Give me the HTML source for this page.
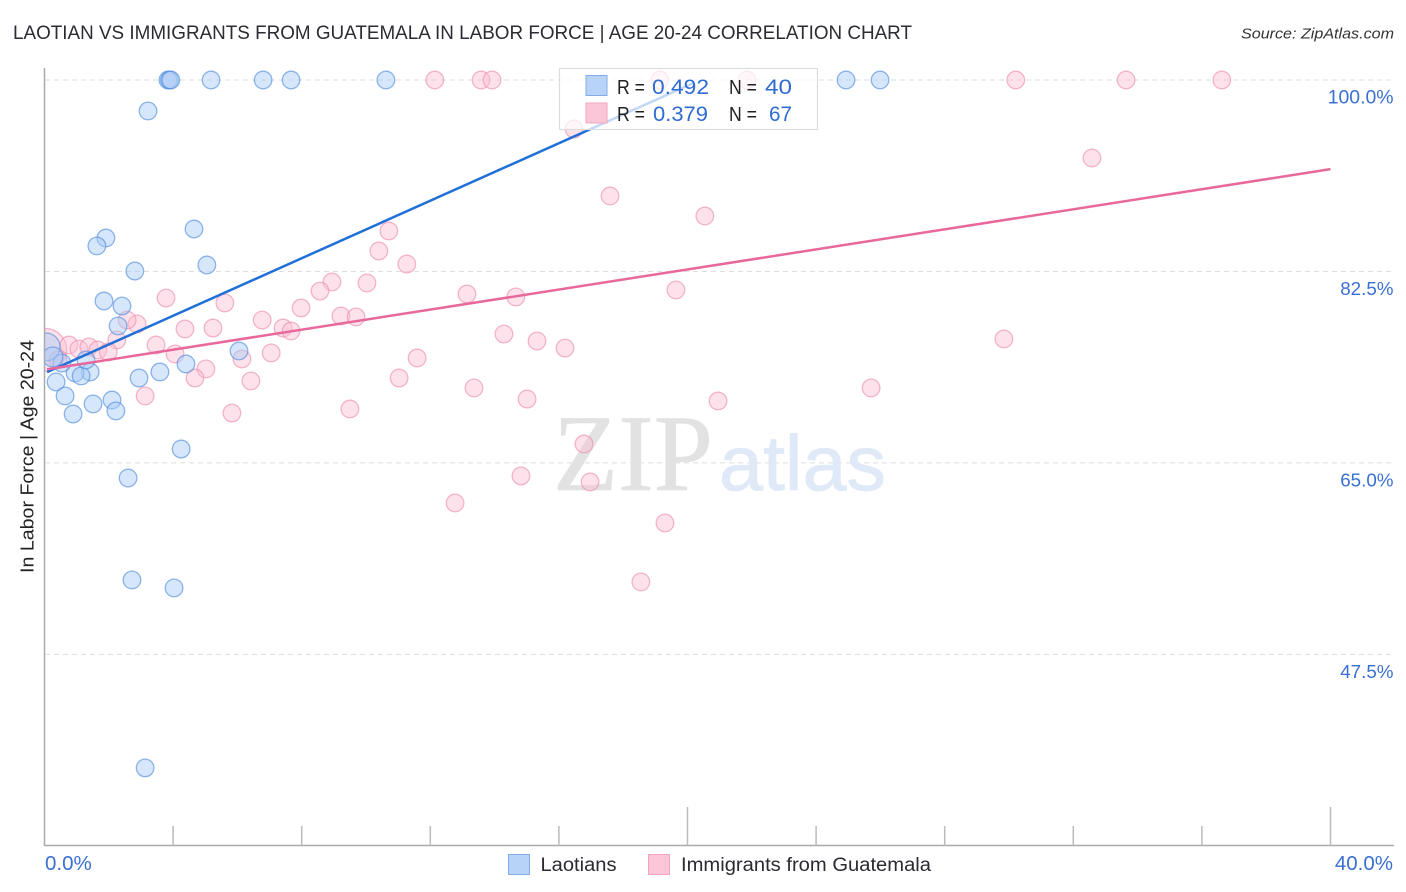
<!DOCTYPE html>
<html lang="en">
<head>
<meta charset="utf-8">
<title>Laotian vs Immigrants from Guatemala in Labor Force | Age 20-24 Correlation Chart</title>
<style>
html,body{margin:0;padding:0;background:#fff;width:1406px;height:892px;overflow:hidden}
svg{display:block}
text{font-family:"Liberation Sans",sans-serif}
</style>
</head>
<body>
<svg id="chart" xmlns="http://www.w3.org/2000/svg" width="1406" height="892" viewBox="0 0 1406 892">
  <defs>
    <clipPath id="plot-clip"><rect x="45" y="60" width="1350" height="786"/></clipPath>
  </defs>
  <rect x="0" y="0" width="1406" height="892" fill="#fff"/>
  <text x="13" y="39" font-size="19.5" fill="#2b2b33" textLength="899" lengthAdjust="spacingAndGlyphs">LAOTIAN VS IMMIGRANTS FROM GUATEMALA IN LABOR FORCE | AGE 20-24 CORRELATION CHART</text>
  <text x="1241" y="38.5" font-size="15" font-style="italic" fill="#333" textLength="153" lengthAdjust="spacingAndGlyphs">Source: ZipAtlas.com</text>
  <text transform="translate(33.5,456.5) rotate(-90)" text-anchor="middle" font-size="18.5" fill="#222" textLength="233" lengthAdjust="spacingAndGlyphs">In Labor Force | Age 20-24</text>

  <g id="grid"></g>

  <g>
    <text x="553" y="490" font-size="109" fill="#e2e2e2" stroke="#e2e2e2" stroke-width="0.6" style="font-family:'Liberation Serif',serif" textLength="160" lengthAdjust="spacingAndGlyphs">ZIP</text>
    <text x="719" y="490" font-size="78" fill="#dfe9f8" stroke="#dfe9f8" stroke-width="0.8" textLength="167" lengthAdjust="spacingAndGlyphs">atlas</text>
  </g>

  <g id="points" clip-path="url(#plot-clip)"></g>
  <g id="trends"></g>
  <g id="axes"></g>

  <g>
    <rect x="559.5" y="68.5" width="258" height="61" fill="#fff" fill-opacity="0.72" stroke="#dcdcdc" stroke-width="1.2"/>
    <rect x="586" y="75.5" width="21" height="20" fill="#b7d3f8" stroke="#82ace6" stroke-width="1"/>
    <rect x="586" y="103" width="21" height="20" fill="#fcc6d8" stroke="#f2a6bf" stroke-width="1"/>
    <text x="617" y="94" font-size="20" fill="#222" textLength="28" lengthAdjust="spacingAndGlyphs">R =</text>
    <text x="652" y="94" font-size="21" fill="#2f6bd0" textLength="57" lengthAdjust="spacingAndGlyphs">0.492</text>
    <text x="729" y="94" font-size="20" fill="#222" textLength="28" lengthAdjust="spacingAndGlyphs">N =</text>
    <text x="765" y="94" font-size="21" fill="#2f6bd0" textLength="27" lengthAdjust="spacingAndGlyphs">40</text>
    <text x="617" y="121" font-size="20" fill="#222" textLength="28" lengthAdjust="spacingAndGlyphs">R =</text>
    <text x="653" y="121" font-size="21" fill="#2f6bd0" textLength="55" lengthAdjust="spacingAndGlyphs">0.379</text>
    <text x="729" y="121" font-size="20" fill="#222" textLength="28" lengthAdjust="spacingAndGlyphs">N =</text>
    <text x="769" y="121" font-size="21" fill="#2f6bd0" textLength="23" lengthAdjust="spacingAndGlyphs">67</text>
  </g>

  <g>
    <g>
      <rect x="508.5" y="854.5" width="21" height="20" fill="#b7d3f8" stroke="#82ace6" stroke-width="1"/>
      <text x="540.5" y="871" font-size="19" fill="#2a2a33" textLength="76" lengthAdjust="spacingAndGlyphs">Laotians</text>
    </g>
    <g>
      <rect x="648.5" y="854.5" width="21" height="20" fill="#fcc6d8" stroke="#f2a6bf" stroke-width="1"/>
      <text x="681" y="871" font-size="19" fill="#2a2a33" textLength="250" lengthAdjust="spacingAndGlyphs">Immigrants from Guatemala</text>
    </g>
  </g>
</svg>
<script>
const yTickValues = [100, 82.5, 65, 47.5];
const yTickLabels = ["100.0%", "82.5%", "65.0%", "47.5%"];
const xTickValues = [4, 8, 12, 16, 20, 24, 28, 32, 36, 40];
const xMajorTicks = [20, 40];
const xEndValues = [0, 40];
const xEndLabels = ["0.0%", "40.0%"];

const laotianX = [3.84,3.89,3.93,5.18,6.80,7.67,10.62,24.93,25.99,3.22,4.65,1.91,1.63,2.81,5.05,1.85,2.41,2.29,6.05,4.40,3.59,2.94,1.42,0.95,1.14,1.29,0.54,0.05,0.26,0.36,0.64,0.89,1.51,2.10,2.22,4.25,2.60,2.72,4.03,3.13];
const laotianY = [100,100,100,100,100,100,100,100,100,97.17,86.38,85.56,84.83,82.54,83.09,79.80,79.34,77.52,75.23,74.04,73.31,72.76,73.31,73.22,72.95,74.41,74.13,75.60,74.68,72.40,71.12,69.47,70.39,70.75,69.75,66.27,63.62,54.30,53.57,37.12];
const laotianWeight = [1,1,1,1,1,1,1,1,1,1,1,1,1,1,1,1,1,1,1,1,1,1,1,1,1,1,1,2.5,1.3,1,1,1,1,1,1,1,1,1,1,1];

const guatemalaX = [12.14,13.58,13.92,19.14,21.85,30.21,33.64,36.62,16.47,32.58,17.59,20.54,10.71,10.40,11.27,8.94,10.03,8.57,13.14,14.66,19.64,3.78,5.61,7.98,6.77,9.22,9.69,2.88,2.57,4.37,5.24,7.42,7.67,14.29,15.32,16.19,29.84,2.25,3.47,4.06,6.14,7.05,11.59,5.02,4.68,6.42,11.03,13.36,15.01,3.13,9.50,5.83,20.95,25.71,16.78,14.82,16.97,12.77,19.30,18.55,0.02,0.76,1.07,1.38,1.66,1.98,0.42];
const guatemalaY = [100,100,100,100,100,100,100,100,95.52,92.87,89.40,87.57,86.20,84.37,83.18,81.54,81.45,80.71,80.44,80.17,80.81,80.07,79.62,79.16,78.06,78.43,78.34,77.70,78.06,77.24,77.33,77.33,77.06,76.78,76.14,75.50,76.33,76.24,75.78,74.96,74.50,75.05,74.59,73.59,72.76,72.49,72.76,71.85,70.84,71.12,69.93,69.56,70.66,71.85,66.73,63.81,63.26,61.34,59.51,54.12,75.32,75.78,75.41,75.60,75.32,75.14,74.41];
const guatemalaWeight = [1,1,1,1,1,1,1,1,1,1,1,1,1,1,1,1,1,1,1,1,1,1,1,1,1,1,1,1,1,1,1,1,1,1,1,1,1,1,1,1,1,1,1,1,1,1,1,1,1,1,1,1,1,1,1,1,1,1,1,1,6,1,1,1,1,1,1];

const laotianTrendX = [0.08, 20.17];
const laotianTrendY = [73.30, 99.70];
const guatemalaTrendX = [0.08, 40];
const guatemalaTrendY = [73.55, 91.85];

const SVG_NS = "http://www.w3.org/2000/svg";
function xScale(v) { return 44.5 + v * 32.15; }
function yScale(v) { return 80 + (100 - v) * 10.94; }
function radius(w) { return 8.8 * Math.sqrt(w); }
function make(tag, attrs, parent) {
  const el = document.createElementNS(SVG_NS, tag);
  for (const k in attrs) el.setAttribute(k, attrs[k]);
  parent.appendChild(el);
  return el;
}

const grid = document.getElementById("grid");
const axes = document.getElementById("axes");
const points = document.getElementById("points");
const trends = document.getElementById("trends");

yTickValues.forEach(function (v, i) {
  const line = make("line", {x1: 45, x2: 1394, y1: yScale(v), y2: yScale(v), stroke: "#dedede", "stroke-width": 1, "stroke-dasharray": "5 4"}, grid);
  
  
  const label = make("text", {x: 1393.5, y: yScale(v) + 23.7, "text-anchor": "end", "font-size": yTickLabels[i].length > 5 ? 19.4 : 18.8, fill: "#3a70d2"}, axes);
  
  
  label.textContent = yTickLabels[i];
});

const yAxisLine = make("line", {x1: 44.5, x2: 44.5, y1: 68, y2: 846, stroke: "#aaa", "stroke-width": 1.5}, axes);


const xAxisLine = make("line", {x1: 44, x2: 1394, y1: 845.5, y2: 845.5, stroke: "#aaa", "stroke-width": 1.5}, axes);



xTickValues.forEach(function (v) {
  const top = xMajorTicks.indexOf(v) >= 0 ? 807 : 826;
  const tick = make("line", {x1: xScale(v), x2: xScale(v), y1: top, y2: 845.5, stroke: "#bbb", "stroke-width": 1.5}, axes);
  
  
});

xEndValues.forEach(function (v, i) {
  const isFirst = i === 0;
  const label = make("text", {x: isFirst ? xScale(v) + 0.5 : xScale(v) + 62.5, y: 870, "text-anchor": isFirst ? "start" : "end", "font-size": 20.5, fill: "#3a70d2"}, axes);
  
  
  label.textContent = xEndLabels[i];
});

guatemalaX.forEach(function (v, i) {
  const c = make("circle", {cx: xScale(v), cy: yScale(guatemalaY[i]), r: radius(guatemalaWeight[i]), fill: "#fbc0d4", "fill-opacity": 0.46, stroke: "#ec8dac", "stroke-opacity": 0.62, "stroke-width": 1.3}, points);
  
  
});
laotianX.forEach(function (v, i) {
  const c = make("circle", {cx: xScale(v), cy: yScale(laotianY[i]), r: radius(laotianWeight[i]), fill: "#a9cbf6", "fill-opacity": 0.48, stroke: "#4d8bdc", "stroke-opacity": 0.62, "stroke-width": 1.3}, points);
  
  
});

const laotianLine = make("line", {x1: xScale(laotianTrendX[0]), y1: yScale(laotianTrendY[0]), x2: xScale(laotianTrendX[1]), y2: yScale(laotianTrendY[1]), stroke: "#2170d8", "stroke-width": 2.5}, trends);


const guatemalaLine = make("line", {x1: xScale(guatemalaTrendX[0]), y1: yScale(guatemalaTrendY[0]), x2: xScale(guatemalaTrendX[1]), y2: yScale(guatemalaTrendY[1]), stroke: "#e9689b", "stroke-width": 2.5}, trends);


</script>
</body>
</html>
